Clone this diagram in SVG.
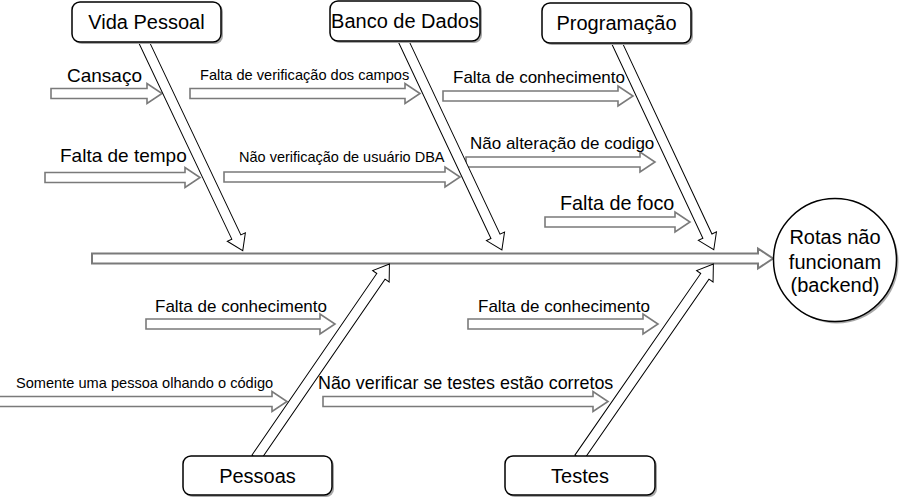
<svg xmlns="http://www.w3.org/2000/svg" width="899" height="500" viewBox="0 0 899 500">
<style>
.h{fill:#fff;stroke:#7a7a7a;stroke-width:1.6}
.sp{fill:#fff;stroke:#7a7a7a;stroke-width:2}
.d{fill:#fff;stroke:#000;stroke-width:1}
.box{fill:#fff;stroke:#000;stroke-width:1.5}
.sh{fill:#a8a8a8}
text{font-family:"Liberation Sans",Arial,sans-serif;fill:#000}
.c{text-anchor:middle;font-size:20px}
</style>
<rect width="899" height="500" fill="#fff"/>
<g id="connectors">
<path class="h" d="M51,88.5 H147 V83.5 L162,93.5 L147,103.5 V98.5 H51 Z"/>
<path class="h" d="M190,88.5 H405 V83.5 L420,93.5 L405,103.5 V98.5 H190 Z"/>
<path class="h" d="M443,91 H618 V86 L633,96 L618,106 V101 H443 Z"/>
<path class="h" d="M45,172.5 H185 V167.5 L200,177.5 L185,187.5 V182.5 H45 Z"/>
<path class="h" d="M224,172 H445 V167 L460,177 L445,187 V182 H224 Z"/>
<path class="h" d="M466,157 H640 V152 L655,162 L640,172 V167 H466 Z"/>
<path class="h" d="M545,217 H675 V212 L690,222 L675,232 V227 H545 Z"/>
<path class="h" d="M146,319 H320 V314 L335,324 L320,334 V329 H146 Z"/>
<path class="h" d="M-2,396.5 H272 V391.5 L287,401.5 L272,411.5 V406.5 H-2 Z"/>
<path class="h" d="M468,319 H643 V314 L658,324 L643,334 V329 H468 Z"/>
<path class="h" d="M323,396.5 H593 V391.5 L608,401.5 L593,411.5 V406.5 H323 Z"/>
<path class="sp" d="M92,253.5 H758 V248.5 L773,258.5 L758,268.5 V263.5 H92 Z"/>
<path class="d" transform="translate(143,40) rotate(64.65)" d="M0,-5 H218 V-10 L233,0 L218,10 V5 H0 Z"/>
<path class="d" transform="translate(403,40) rotate(64.77)" d="M0,-5 H217 V-10 L232,0 L217,10 V5 H0 Z"/>
<path class="d" transform="translate(616,41) rotate(64.9)" d="M0,-5 H215.5 V-10 L230.5,0 L215.5,10 V5 H0 Z"/>
<path class="d" transform="translate(256,458) rotate(-55.49)" d="M0,-5 H220.5 V-10 L235.5,0 L220.5,10 V5 H0 Z"/>
<path class="d" transform="translate(579,458) rotate(-55.29)" d="M0,-5 H221 V-10 L236,0 L221,10 V5 H0 Z"/>
</g>
<g id="labels">
<text x="67" y="82" font-size="19">Cansaço</text>
<text x="200" y="80" font-size="14.6">Falta de verificação dos campos</text>
<text x="453" y="83" font-size="17">Falta de conhecimento</text>
<text x="60" y="162" font-size="19">Falta de tempo</text>
<text x="239" y="162" font-size="14.5">Não verificação de usuário DBA</text>
<text x="470" y="149" font-size="17">Não alteração de codigo</text>
<text x="560" y="210" font-size="19.8">Falta de foco</text>
<text x="155" y="312" font-size="17">Falta de conhecimento</text>
<text x="16" y="388" font-size="14.6">Somente uma pessoa olhando o código</text>
<text x="318" y="389" font-size="17.9">Não verificar se testes estão corretos</text>
<text x="478" y="312" font-size="17">Falta de conhecimento</text>
</g>
<g id="vida-pessoal">
<rect class="sh" x="74" y="4" width="149" height="40" rx="8"/>
<rect class="box" x="72" y="2" width="149" height="40" rx="8"/>
<text class="c" x="146.5" y="29">Vida Pessoal</text>
</g>
<g id="banco-de-dados">
<rect class="sh" x="332" y="3" width="150" height="40" rx="8"/>
<rect class="box" x="330" y="1" width="150" height="40" rx="8"/>
<text class="c" x="405" y="28" font-size="19">Banco de Dados</text>
</g>
<g id="programacao">
<rect class="sh" x="544" y="5" width="149" height="40" rx="8"/>
<rect class="box" x="542" y="3" width="149" height="40" rx="8"/>
<text class="c" x="616.5" y="30">Programação</text>
</g>
<g id="pessoas">
<rect class="sh" x="185" y="458" width="149" height="39" rx="8"/>
<rect class="box" x="183" y="456" width="149" height="39" rx="8"/>
<text class="c" x="257.5" y="483">Pessoas</text>
</g>
<g id="testes">
<rect class="sh" x="507" y="458" width="150" height="39" rx="8"/>
<rect class="box" x="505" y="456" width="150" height="39" rx="8"/>
<text class="c" x="580" y="483">Testes</text>
</g>
<g id="rotas">
<circle class="sh" cx="837" cy="262" r="61.5"/>
<circle class="box" cx="835" cy="260" r="61.5"/>
<text class="c" x="835" y="244" font-size="20.5">Rotas não</text>
<text class="c" x="835" y="269" font-size="20.5">funcionam</text>
<text class="c" x="835" y="292" font-size="20.5">(backend)</text>
</g>
</svg>
